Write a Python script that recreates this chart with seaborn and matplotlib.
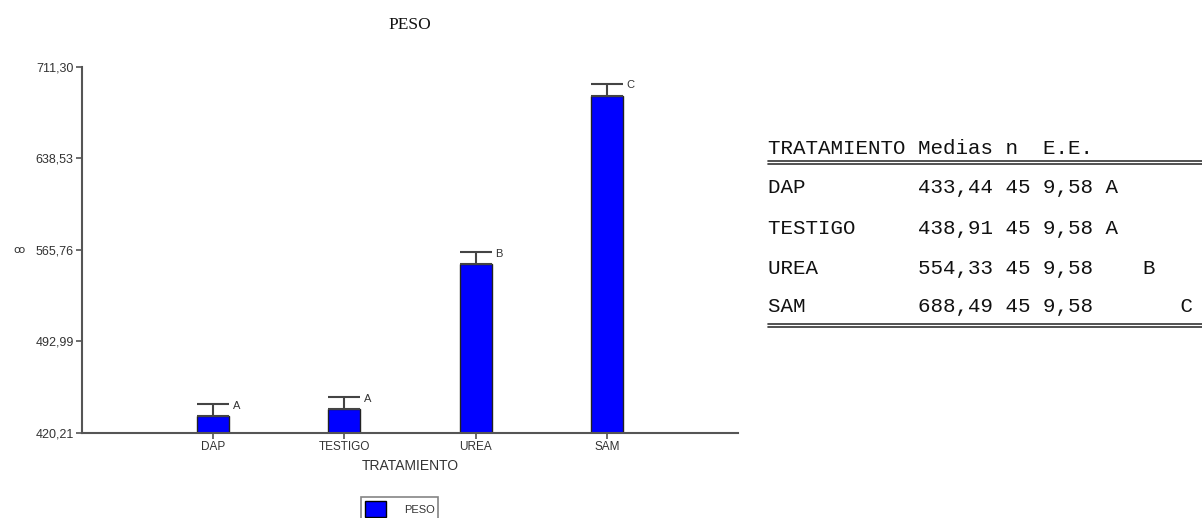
import matplotlib
matplotlib.use("Agg")
import matplotlib.pyplot as plt
from matplotlib.lines import Line2D
from matplotlib.patches import Patch
import seaborn as sns
import pandas as pd

# Treatment means, n, standard errors and Tukey groups
tratamientos = ["DAP", "TESTIGO", "UREA", "SAM"]
medias = [433.44, 438.91, 554.33, 688.49]
n_obs = [45, 45, 45, 45]
ee = [9.58, 9.58, 9.58, 9.58]
grupos = ["A", "A", "B", "C"]
grupo_col = [0, 0, 1, 2]
y_ticks = [420.21, 492.99, 565.76, 638.53, 711.30]

df = pd.DataFrame({"TRATAMIENTO": tratamientos, "PESO": medias})

sns.set_style("white")
plt.rcParams["font.family"] = ["Liberation Sans", "DejaVu Sans"]

fig = plt.figure(figsize=(12.02, 5.18), dpi=100)
ax = fig.add_axes([82 / 1202, 1 - 433 / 518, (738 - 82) / 1202, (433 - 67) / 518])

blue = "#0000FF"
axis_col = "#555555"
text_col = "#333333"

sns.barplot(data=df, x="TRATAMIENTO", y="PESO", color=blue, edgecolor="#222222",
            linewidth=1.0, width=0.245, errorbar=None, saturation=1, ax=ax)

xs = list(range(len(tratamientos)))
ax.errorbar(xs, medias, yerr=[[0] * len(ee), ee], fmt="none", ecolor="#444444",
            elinewidth=1.5, capsize=11.5, capthick=1.5, zorder=3)

for x, m, e, g in zip(xs, medias, ee, grupos):
    ax.annotate(g, xy=(x, m + e), xytext=(14, -1), textcoords="offset points",
                ha="left", va="center", fontsize=8, color=text_col)

ax.set_xlim(-1, 4.0)
ax.set_ylim(y_ticks[0], y_ticks[-1])
ax.set_yticks(y_ticks)
ax.set_yticklabels([f"{v:.2f}".replace(".", ",") for v in y_ticks])
ax.tick_params(axis="both", direction="out", length=4, width=1.2, color=axis_col,
               labelcolor=text_col, left=True, bottom=True, pad=2)
ax.tick_params(axis="y", labelsize=9)
ax.tick_params(axis="x", labelsize=8.5)

for s in ["top", "right"]:
    ax.spines[s].set_visible(False)
for s in ["left", "bottom"]:
    ax.spines[s].set_color(axis_col)
    ax.spines[s].set_linewidth(1.5)

ax.set_xlabel("TRATAMIENTO", fontsize=10, color=text_col, labelpad=4)
ax.set_ylabel("ꝏ", fontsize=8, color=text_col, rotation=0, labelpad=12,
              family=["DejaVu Sans"], va="center")

fig.text(410 / 1202, 1 - 25 / 518, "PESO", family="Liberation Serif", fontsize=12.5,
         ha="center", va="center", color="#111111")

leg = fig.legend(handles=[Patch(facecolor=blue, edgecolor="black", label="PESO")],
                 loc="upper left", bbox_to_anchor=(361 / 1202, 1 - 497 / 518),
                 bbox_transform=fig.transFigure, borderaxespad=0, frameon=True,
                 fancybox=False, fontsize=8, handlelength=1.9, handleheight=1.9,
                 handletextpad=1.6, borderpad=0.35)
leg.get_frame().set_edgecolor("#666666")
leg.get_frame().set_linewidth(1.2)
for t in leg.get_texts():
    t.set_color(text_col)

# Summary table beside the chart
x0 = 768 / 1202
mono = dict(family="Liberation Mono", fontsize=15, color="#111111", va="center", ha="left")
fig.text(x0, 1 - 148 / 518, "TRATAMIENTO Medias n  E.E.", **mono)
row_y = [188, 228, 268, 307]
for ty, t, m, k, e, gc, g in zip(row_y, tratamientos, medias, n_obs, ee, grupo_col, grupos):
    row = f"{t:<12}{m:.2f} {k} {e:.2f}".replace(".", ",")
    row = row + " " + " " * (3 * gc) + g
    fig.text(x0, 1 - ty / 518, row, **mono)

for yy in (161, 164, 324, 327):
    fig.add_artist(Line2D([x0, 1.0], [1 - yy / 518, 1 - yy / 518],
                          transform=fig.transFigure, color="#333333", linewidth=1.2))

fig.savefig("out.png", dpi=100)
